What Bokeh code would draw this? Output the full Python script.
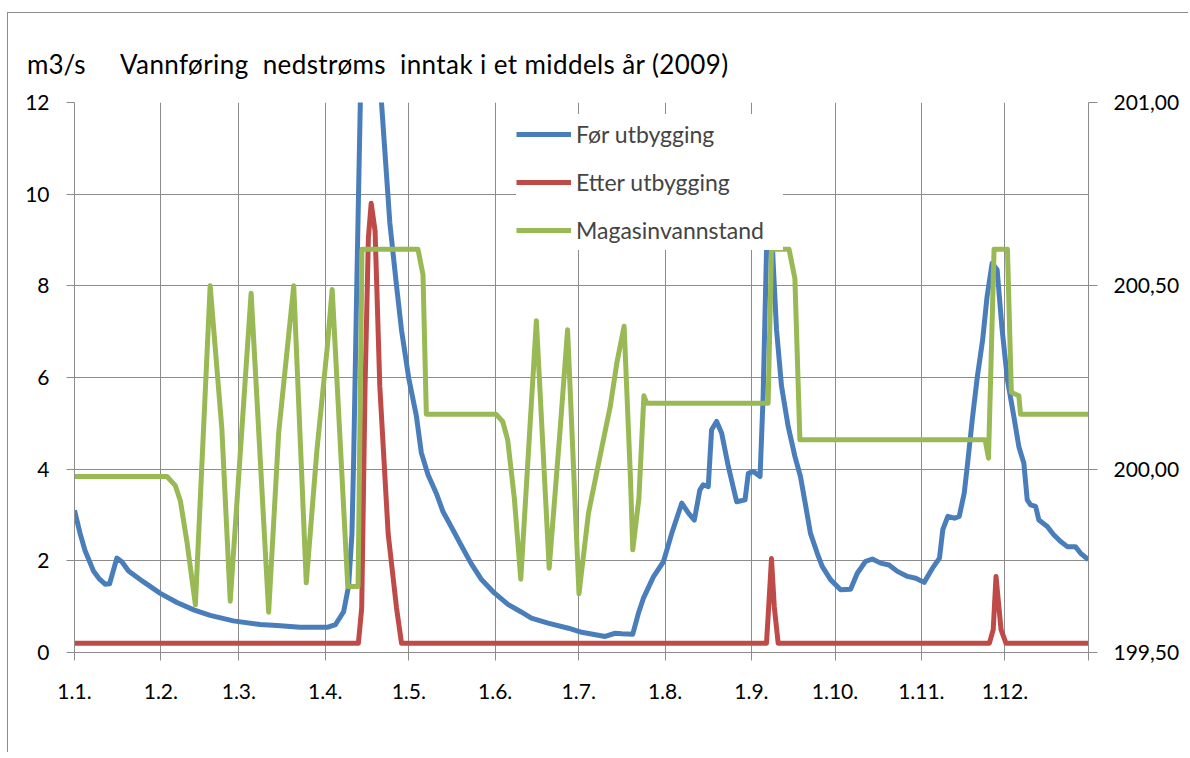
from bokeh.plotting import figure
from bokeh.models import (Range1d, LinearAxis, FixedTicker, Legend, LegendItem,
                          CustomJSTickFormatter, Div)
from bokeh.layouts import column
from bokeh.embed import file_html
from bokeh.resources import INLINE

# ---------------- data ----------------
month_ticks = [0, 31, 59, 90, 120, 151, 181, 212, 243, 273, 304, 334, 364]
month_labels = ["1.1.", "1.2.", "1.3.", "1.4.", "1.5.", "1.6.", "1.7.", "1.8.",
                "1.9.", "1.10.", "1.11.", "1.12.", ""]
flow_ticks = [0, 2, 4, 6, 8, 10, 12]
level_ticks = [199.5, 200.0, 200.5, 201.0]

# Før utbygging (m3/s)
blue_day = [0, 2, 3.8, 6.8, 9, 11, 12.6, 15.2, 17, 19.4, 24.8, 30.8, 36.8, 42.8, 48.7,
            57, 66.7, 72.7, 81, 90.7, 93.7, 96.6, 98.4, 99.6, 100.2, 101.4, 102.6,
            104.5, 106.5, 108.5, 110.2, 113.2, 115.6, 117.4, 120, 122.7, 124.5, 126.9,
            129.9, 132.3, 135.2, 138.8, 142.4, 146, 150.7, 155.6, 160.2, 164, 170,
            177.3, 182.1, 190.5, 194.1, 196.5, 200.4, 202.4, 204.2, 207.8, 211.4,
            214.4, 218, 220.4, 222.5, 224.5, 225.7, 227.5, 228.7, 230.5, 232.3, 234.7,
            237.7, 240.7, 241.9, 243.7, 246.1, 247.2, 248.4, 249.5, 250.8, 252, 253.8,
            256.2, 258.6, 260.6, 262.5, 264.2, 266.6, 268.4, 271.4, 275, 278.6, 281,
            284, 286.4, 289.4, 292.4, 295.4, 299, 302, 305, 308, 310.5, 311.7, 313.5,
            315.9, 317.6, 319.4, 320.6, 322.4, 324.1, 326, 327.6, 329.4, 331.2, 333,
            334.9, 337.2, 339, 340.8, 342, 343.2, 345, 346.2, 349.2, 351.5, 354, 356.4,
            359.3, 361.1, 364]
blue_val = [3.1, 2.6, 2.22, 1.78, 1.6, 1.49, 1.5, 2.06, 1.98, 1.78, 1.54, 1.29, 1.09,
            0.93, 0.81, 0.69, 0.61, 0.59, 0.55, 0.55, 0.61, 0.89, 1.45, 2.59, 4.2, 8.24,
            12.0, 14.5, 15.0, 13.5, 12.0, 9.37, 8.0, 7.03, 5.98, 5.17, 4.36, 3.88, 3.47,
            3.07, 2.75, 2.34, 1.94, 1.6, 1.3, 1.05, 0.89, 0.75, 0.64, 0.53, 0.44, 0.35,
            0.42, 0.41, 0.4, 0.85, 1.18, 1.65, 1.98, 2.6, 3.26, 3.04, 2.89, 3.55, 3.66,
            3.62, 4.86, 5.04, 4.79, 4.06, 3.29, 3.33, 3.91, 3.95, 3.84, 5.59, 8.73, 10.5,
            8.5, 7.05, 5.81, 4.93, 4.28, 3.84, 3.19, 2.6, 2.17, 1.88, 1.59, 1.37, 1.38,
            1.73, 1.99, 2.04, 1.95, 1.91, 1.77, 1.66, 1.62, 1.53, 1.84, 2.06, 2.68, 2.97,
            2.93, 2.97, 3.48, 4.13, 5.15, 6.02, 6.82, 7.77, 8.49, 8.35, 7.04, 5.95, 5.15,
            4.49, 4.13, 3.33, 3.22, 3.19, 2.89, 2.75, 2.57, 2.42, 2.31, 2.31, 2.17, 2.02]

# Etter utbygging (m3/s)
red_day = [0, 101.9, 103.1, 104.3, 105.5, 106.5, 107.9, 109.6, 112.6, 115.6, 117.4,
           248.4, 249.2, 250.2, 251.2, 252.6, 328.4, 329.8, 330.8, 332.6, 334.4, 364]
red_val = [0.2, 0.2, 0.97, 5.8, 9.05, 9.8, 9.2, 5.8, 2.59, 0.97, 0.2,
           0.2, 1.0, 2.05, 1.0, 0.2, 0.2, 0.5, 1.66, 0.5, 0.2, 0.2]

# Magasinvannstand (moh., right axis)
green_day = [0, 33.2, 36.2, 38, 40.4, 43.4, 48.7, 52.9, 55.9, 63.4, 69.7, 73.3, 78.7,
             83.2, 87, 90.7, 92.5, 94.3, 98.1, 101.8, 103.2, 123.3, 125.1, 126.3,
             151.3, 153.7, 155.5, 157.9, 160.2, 165.8, 170.4, 174.3, 177, 181.1, 184.5,
             189.3, 192.3, 194.7, 197.3, 199.6, 200.4, 202.6, 204.4, 205.4, 249, 250.2,
             256.5, 258.6, 260.4, 326.9, 328.1, 330.1, 334.9, 336.3, 339.0, 339.6, 364]
green_val = [199.98, 199.98, 199.955, 199.914, 199.80, 199.63, 200.50, 200.11, 199.64,
             200.48, 199.61, 200.10, 200.50, 199.69, 200.05, 200.33, 200.49, 200.23,
             199.68, 199.68, 200.60, 200.60, 200.53, 200.15, 200.15, 200.13, 200.08,
             199.92, 199.70, 200.405, 199.73, 200.105, 200.38, 199.66, 199.88, 200.06,
             200.17, 200.29, 200.39, 199.97, 199.78, 199.92, 200.20, 200.18, 200.18,
             200.60, 200.60, 200.52, 200.08, 200.08, 200.03, 200.60, 200.60, 200.21,
             200.20, 200.15, 200.15]

title_text = "Vannføring  nedstrøms  inntak i et middels år (2009)"
unit_text = "m3/s"
series_names = ["Før utbygging", "Etter utbygging", "Magasinvannstand"]

# ---------------- styling ----------------
FONT = "Lato"
GRID = "#8c8c8c"
BLUE = "#4A7EBB"
RED = "#BE4B48"
GREEN = "#98B954"
LW = 5

header = Div(
    text=('<div style="position:relative;width:1180px;height:75px;font-family:Lato;color:#000;">'
          '<span style="position:absolute;left:19px;top:36px;font-size:26px;line-height:30px;'
          'white-space:pre;">' + unit_text + '</span>'
          '<span style="position:absolute;left:112px;top:36px;font-size:26px;line-height:30px;'
          'letter-spacing:0.4px;white-space:pre;">' + title_text + '</span></div>'),
    width=1180, height=75, margin=0)

p = figure(frame_width=1014, frame_height=550,
           min_border_left=66, min_border_right=100, min_border_top=14, min_border_bottom=100,
           x_range=Range1d(0, 364), y_range=Range1d(0, 12),
           output_backend="svg", toolbar_location=None, title=None, margin=0)
p.outline_line_color = None
p.background_fill_color = "white"
p.border_fill_color = "white"

# left axis
la = p.left[0]
la.ticker = FixedTicker(ticks=flow_ticks)
la.minor_tick_line_color = None
la.major_tick_in = 0
la.major_tick_out = 8
la.axis_line_color = GRID
la.major_tick_line_color = GRID
la.major_label_text_font = FONT
la.major_label_text_font_size = "21px"
la.major_label_text_color = "black"
la.major_label_standoff = 17

# bottom axis
ba = p.below[0]
ba.ticker = FixedTicker(ticks=month_ticks)
ba.major_label_overrides = {t: s for t, s in zip(month_ticks, month_labels)}
ba.minor_tick_line_color = None
ba.major_tick_in = 0
ba.major_tick_out = 8
ba.axis_line_color = GRID
ba.major_tick_line_color = GRID
ba.major_label_text_font = FONT
ba.major_label_text_font_size = "21px"
ba.major_label_text_color = "black"
ba.major_label_standoff = 23

# right axis
p.extra_y_ranges = {"lvl": Range1d(199.5, 201.0)}
ra = LinearAxis(y_range_name="lvl", ticker=FixedTicker(ticks=level_ticks),
                formatter=CustomJSTickFormatter(code="return tick.toFixed(2).replace('.', ',');"))
ra.minor_tick_line_color = None
ra.major_tick_in = 0
ra.major_tick_out = 9
ra.axis_line_color = GRID
ra.major_tick_line_color = GRID
ra.major_label_text_font = FONT
ra.major_label_text_font_size = "21px"
ra.major_label_text_color = "black"
ra.major_label_standoff = 16
p.add_layout(ra, "right")

# grids
p.xgrid.ticker = FixedTicker(ticks=month_ticks)
p.ygrid.ticker = FixedTicker(ticks=flow_ticks)
p.xgrid.grid_line_color = GRID
p.ygrid.grid_line_color = GRID
p.xgrid.grid_line_width = 1
p.ygrid.grid_line_width = 1

# series
rb = p.line(blue_day, blue_val, line_color=BLUE, line_width=LW, line_join="round")
rr = p.line(red_day, red_val, line_color=RED, line_width=LW, line_join="round")
rg = p.line(green_day, green_val, line_color=GREEN, line_width=LW, line_join="round",
            y_range_name="lvl")

legend = Legend(items=[LegendItem(label=series_names[0], renderers=[rb]),
                       LegendItem(label=series_names[1], renderers=[rr]),
                       LegendItem(label=series_names[2], renderers=[rg])],
                location=(442, 402), orientation="vertical",
                glyph_width=55, glyph_height=40, label_height=40, spacing=8,
                padding=17, margin=0, label_standoff=5, label_width=207,
                label_text_font=FONT, label_text_font_size="23px",
                border_line_color=None, background_fill_color="white",
                background_fill_alpha=1.0)
p.add_layout(legend)

page = column(header, p, spacing=0,
              styles={"margin-left": "7px", "margin-top": "12px",
                      "border-left": "1px solid #8c8c8c", "border-top": "1px solid #8c8c8c"})

open("out.html", "w").write(file_html(page, INLINE))
